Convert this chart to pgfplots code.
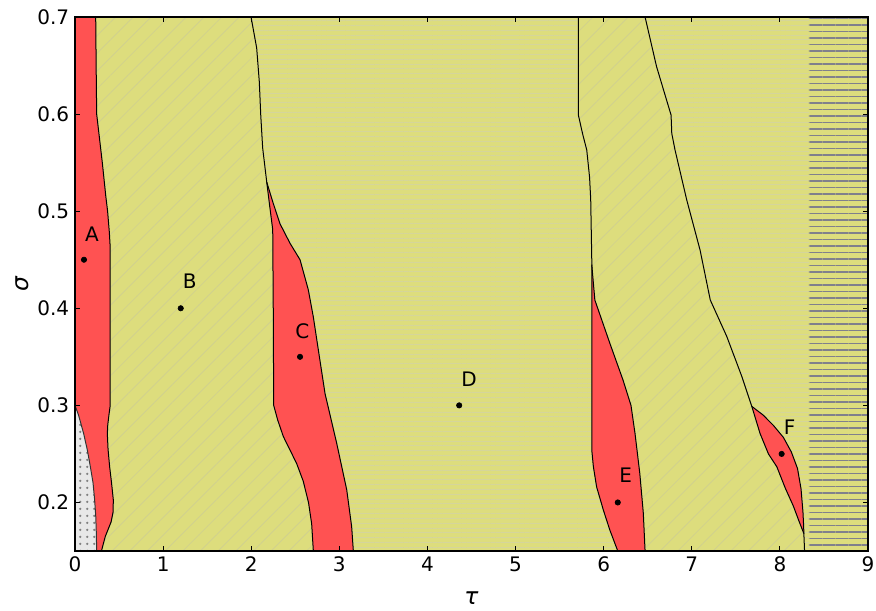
\documentclass[border=0pt]{standalone}
\usepackage{fontspec}
\setmainfont{DejaVu Sans}
\usepackage{pgfplots}
\pgfplotsset{compat=1.18}
\usetikzlibrary{patterns.meta}
\definecolor{yel}{RGB}{221,221,125}
\definecolor{redc}{RGB}{255,82,82}
\definecolor{hatchc}{RGB}{207,207,145}
\definecolor{hlinec}{RGB}{213,213,155}
\definecolor{grayl}{RGB}{128,128,140}
\definecolor{dotbg}{RGB}{232,232,232}
\begin{document}
\begin{tikzpicture}
\begin{axis}[
  scale only axis, width=475.8pt, height=320.4pt,
  xmin=0, xmax=9, ymin=0.15, ymax=0.7,
  xtick={0,1,2,3,4,5,6,7,8,9},
  ytick={0.2,0.3,0.4,0.5,0.6,0.7},
  yticklabel style={/pgf/number format/.cd, fixed, fixed zerofill, precision=1},
  /pgf/number format/assume math mode=true,
  tick align=inside, major tick length=3pt,
  tick style={black, line width=0.6pt},
  axis line style={line width=1pt},
  axis background/.style={fill=yel},
  axis on top,
  tick label style={font=\fontsize{12}{14}\selectfont},
  label style={font=\fontsize{14}{16}\selectfont},
  xlabel={\textit{τ}}, ylabel={\textit{σ}},
  xlabel style={at={(axis description cs:0.5,-0.088)}, anchor=center},
  ylabel style={at={(axis description cs:-0.067,0.5)}, anchor=center},
]
% ---- zone Z1: diagonal faint hatch
\addplot[draw=none, pattern={Lines[angle=45,distance=7.5pt,line width=0.4pt]}, pattern color=hatchc] coordinates {
 (0,0.7) (1.998,0.7) (2.062,0.668) (2.092,0.633) (2.108,0.599) (2.13,0.565) (2.176,0.53)
 (2.21,0.505) (2.244,0.481) (2.25,0.4) (2.255,0.3) (2.30,0.285) (2.364,0.268) (2.44,0.254) (2.516,0.24) (2.59,0.222) (2.65,0.2) (2.686,0.178) (2.705,0.15)
 (0,0.15)} -- cycle;
% ---- zone Z2: horizontal faint hatch
\addplot[draw=none, pattern={Lines[angle=0,distance=2.9pt,line width=0.35pt]}, pattern color=hlinec] coordinates {
 (1.998,0.7) (2.062,0.668) (2.092,0.633) (2.108,0.599) (2.13,0.565) (2.176,0.53)
 (2.21,0.505) (2.244,0.481) (2.25,0.4) (2.255,0.3) (2.30,0.285) (2.364,0.268) (2.44,0.254) (2.516,0.24) (2.59,0.222) (2.65,0.2) (2.686,0.178) (2.705,0.15)
 (6.16,0.15) (6.07,0.1716) (5.997,0.192) (5.92,0.216) (5.883,0.237) (5.865,0.254) (5.865,0.45)
 (5.853,0.512) (5.84,0.535) (5.808,0.563) (5.76,0.58) (5.713,0.599) (5.713,0.7)} -- cycle;
% ---- zone Z3: diagonal faint hatch
\addplot[draw=none, pattern={Lines[angle=45,distance=7.5pt,line width=0.4pt]}, pattern color=hatchc] coordinates {
 (5.713,0.7) (5.713,0.599) (5.76,0.58) (5.808,0.563) (5.84,0.535) (5.853,0.512) (5.865,0.45)
 (5.865,0.254) (5.883,0.237) (5.92,0.216) (5.997,0.192) (6.07,0.1716) (6.16,0.15) (8.28,0.15)
 (8.272,0.168) (8.22,0.18) (8.154,0.196) (8.06,0.215) (7.965,0.2368) (7.87,0.25) (7.775,0.271) (7.681,0.299)
 (7.567,0.33) (7.397,0.371) (7.21,0.4085) (7.094,0.46) (6.943,0.5115) (6.81,0.563) (6.773,0.58) (6.765,0.599) (6.6,0.649) (6.47,0.7)} -- cycle;
% ---- zone Z4: horizontal faint hatch
\addplot[draw=none, pattern={Lines[angle=0,distance=2.9pt,line width=0.35pt]}, pattern color=hlinec] coordinates {
 (6.47,0.7) (6.6,0.649) (6.765,0.599) (6.773,0.58) (6.81,0.563) (6.943,0.5115) (7.094,0.46) (7.21,0.4085)
 (7.397,0.371) (7.567,0.33) (7.681,0.299) (7.775,0.271) (7.87,0.25) (7.965,0.2368) (8.06,0.215) (8.154,0.196)
 (8.22,0.18) (8.272,0.168) (8.28,0.15) (8.33,0.15) (8.33,0.7)} -- cycle;
% ---- zone Z5: grey horizontal lines
\addplot[draw=none, pattern={Lines[angle=0,distance=3.9pt,line width=0.7pt]}, pattern color=grayl] coordinates {
 (8.33,0.7) (8.33,0.15) (9,0.15) (9,0.7)} -- cycle;
% ---- red region A
\addplot[draw=none, fill=redc] coordinates {
 (0,0.7) (0.235,0.7) (0.24,0.65) (0.246,0.6) (0.31,0.55) (0.35,0.515) (0.37,0.5) (0.39,0.478) (0.40,0.462)
 (0.40,0.40) (0.40,0.30) (0.385,0.29) (0.372,0.28) (0.367,0.271) (0.375,0.255) (0.393,0.237) (0.415,0.22)
 (0.435,0.2025) (0.432,0.19) (0.41,0.18) (0.344,0.165) (0.30,0.15) (0,0.15)} -- cycle;
% ---- dotted region
\addplot[draw=none, fill=dotbg] coordinates {
 (0,0.30) (0.04,0.29) (0.098,0.271) (0.14,0.254) (0.174,0.237) (0.205,0.22) (0.223,0.2025) (0.236,0.185) (0.242,0.168) (0.246,0.15) (0,0.15)} -- cycle;
\addplot[draw=none, pattern={Dots[distance=4pt,radius=0.8pt]}, pattern color=black!50] coordinates {
 (0,0.30) (0.04,0.29) (0.098,0.271) (0.14,0.254) (0.174,0.237) (0.205,0.22) (0.223,0.2025) (0.236,0.185) (0.242,0.168) (0.246,0.15) (0,0.15)} -- cycle;
% ---- red region C
\addplot[draw=none, fill=redc] coordinates {
 (2.176,0.53) (2.25,0.508) (2.327,0.487) (2.44,0.467) (2.554,0.45) (2.648,0.419) (2.705,0.391) (2.762,0.357)
 (2.838,0.312) (2.97,0.261) (3.084,0.213) (3.14,0.175) (3.159,0.15) (2.705,0.15) (2.686,0.178) (2.65,0.2) (2.59,0.222)
 (2.516,0.24) (2.44,0.254) (2.364,0.268) (2.30,0.285) (2.255,0.3) (2.25,0.4) (2.244,0.481) (2.21,0.505)} -- cycle;
% ---- red region E
\addplot[draw=none, fill=redc] coordinates {
 (5.865,0.445) (5.90,0.4085) (6.07,0.364) (6.22,0.326) (6.31,0.30) (6.356,0.271) (6.41,0.23) (6.45,0.189) (6.47,0.15)
 (6.16,0.15) (6.07,0.1716) (5.997,0.192) (5.92,0.216) (5.883,0.237) (5.865,0.254)} -- cycle;
% ---- red region F
\addplot[draw=none, fill=redc] coordinates {
 (7.681,0.299) (7.81,0.29) (7.93,0.279) (8.04,0.267) (8.13,0.252) (8.2,0.235) (8.24,0.214) (8.262,0.19) (8.27,0.175) (8.272,0.168)
 (8.22,0.18) (8.154,0.196) (8.06,0.215) (7.965,0.2368) (7.87,0.25) (7.775,0.271)} -- cycle;
% ---- boundary lines
\addplot[black, line width=0.6pt] coordinates {
 (0.235,0.7) (0.24,0.65) (0.246,0.6) (0.31,0.55) (0.35,0.515) (0.37,0.5) (0.39,0.478) (0.40,0.462)
 (0.40,0.40) (0.40,0.30) (0.385,0.29) (0.372,0.28) (0.367,0.271) (0.375,0.255) (0.393,0.237) (0.415,0.22)
 (0.435,0.2025) (0.432,0.19) (0.41,0.18) (0.344,0.165) (0.30,0.15)};
\addplot[black!80, line width=0.6pt] coordinates {
 (0,0.30) (0.04,0.29) (0.098,0.271) (0.14,0.254) (0.174,0.237) (0.205,0.22) (0.223,0.2025) (0.236,0.185) (0.242,0.168) (0.246,0.15)};
\addplot[black, line width=0.6pt] coordinates {
 (1.998,0.7) (2.062,0.668) (2.092,0.633) (2.108,0.599) (2.13,0.565) (2.176,0.53)
 (2.21,0.505) (2.244,0.481) (2.25,0.4) (2.255,0.3) (2.30,0.285) (2.364,0.268) (2.44,0.254) (2.516,0.24) (2.59,0.222) (2.65,0.2) (2.686,0.178) (2.705,0.15)};
\addplot[black, line width=0.6pt] coordinates {
 (2.176,0.53) (2.25,0.508) (2.327,0.487) (2.44,0.467) (2.554,0.45) (2.648,0.419) (2.705,0.391) (2.762,0.357)
 (2.838,0.312) (2.97,0.261) (3.084,0.213) (3.14,0.175) (3.159,0.15)};
\addplot[black, line width=0.6pt] coordinates {
 (5.713,0.7) (5.713,0.599) (5.76,0.58) (5.808,0.563) (5.84,0.535) (5.853,0.512) (5.865,0.45)
 (5.865,0.254) (5.883,0.237) (5.92,0.216) (5.997,0.192) (6.07,0.1716) (6.16,0.15)};
\addplot[black, line width=0.6pt] coordinates {
 (5.865,0.445) (5.90,0.4085) (6.07,0.364) (6.22,0.326) (6.31,0.30) (6.356,0.271) (6.41,0.23) (6.45,0.189) (6.47,0.15)};
\addplot[black, line width=0.6pt] coordinates {
 (6.47,0.7) (6.6,0.649) (6.765,0.599) (6.773,0.58) (6.81,0.563) (6.943,0.5115) (7.094,0.46) (7.21,0.4085)
 (7.397,0.371) (7.567,0.33) (7.681,0.299) (7.775,0.271) (7.87,0.25) (7.965,0.2368) (8.06,0.215) (8.154,0.196)
 (8.22,0.18) (8.272,0.168) (8.28,0.15)};
\addplot[black, line width=0.6pt] coordinates {
 (7.681,0.299) (7.81,0.29) (7.93,0.279) (8.04,0.267) (8.13,0.252) (8.2,0.235) (8.24,0.214) (8.262,0.19) (8.27,0.175) (8.272,0.168)};
% ---- points
\addplot[only marks, mark=*, mark size=1.6pt, black] coordinates {
 (0.102,0.45) (1.2,0.4) (2.554,0.35) (4.36,0.3) (6.16,0.2) (8.02,0.25)};
\node[font=\fontsize{12}{14}\selectfont] at ([xshift=4.8pt,yshift=15.6pt]axis cs:0.102,0.45) {A};
\node[font=\fontsize{12}{14}\selectfont] at ([xshift=5.4pt,yshift=16.2pt]axis cs:1.2,0.4) {B};
\node[font=\fontsize{12}{14}\selectfont] at ([xshift=1.4pt,yshift=15.6pt]axis cs:2.554,0.35) {C};
\node[font=\fontsize{12}{14}\selectfont] at ([xshift=6pt,yshift=15.6pt]axis cs:4.36,0.3) {D};
\node[font=\fontsize{12}{14}\selectfont] at ([xshift=4.8pt,yshift=16.2pt]axis cs:6.16,0.2) {E};
\node[font=\fontsize{12}{14}\selectfont] at ([xshift=4.8pt,yshift=16.2pt]axis cs:8.02,0.25) {F};
\end{axis}
\pgfresetboundingbox
\useasboundingbox ([shift={(-45pt,-35.4pt)}]current axis.south west) rectangle ([shift={(4.8pt,10.2pt)}]current axis.north east);
\end{tikzpicture}
\end{document}
